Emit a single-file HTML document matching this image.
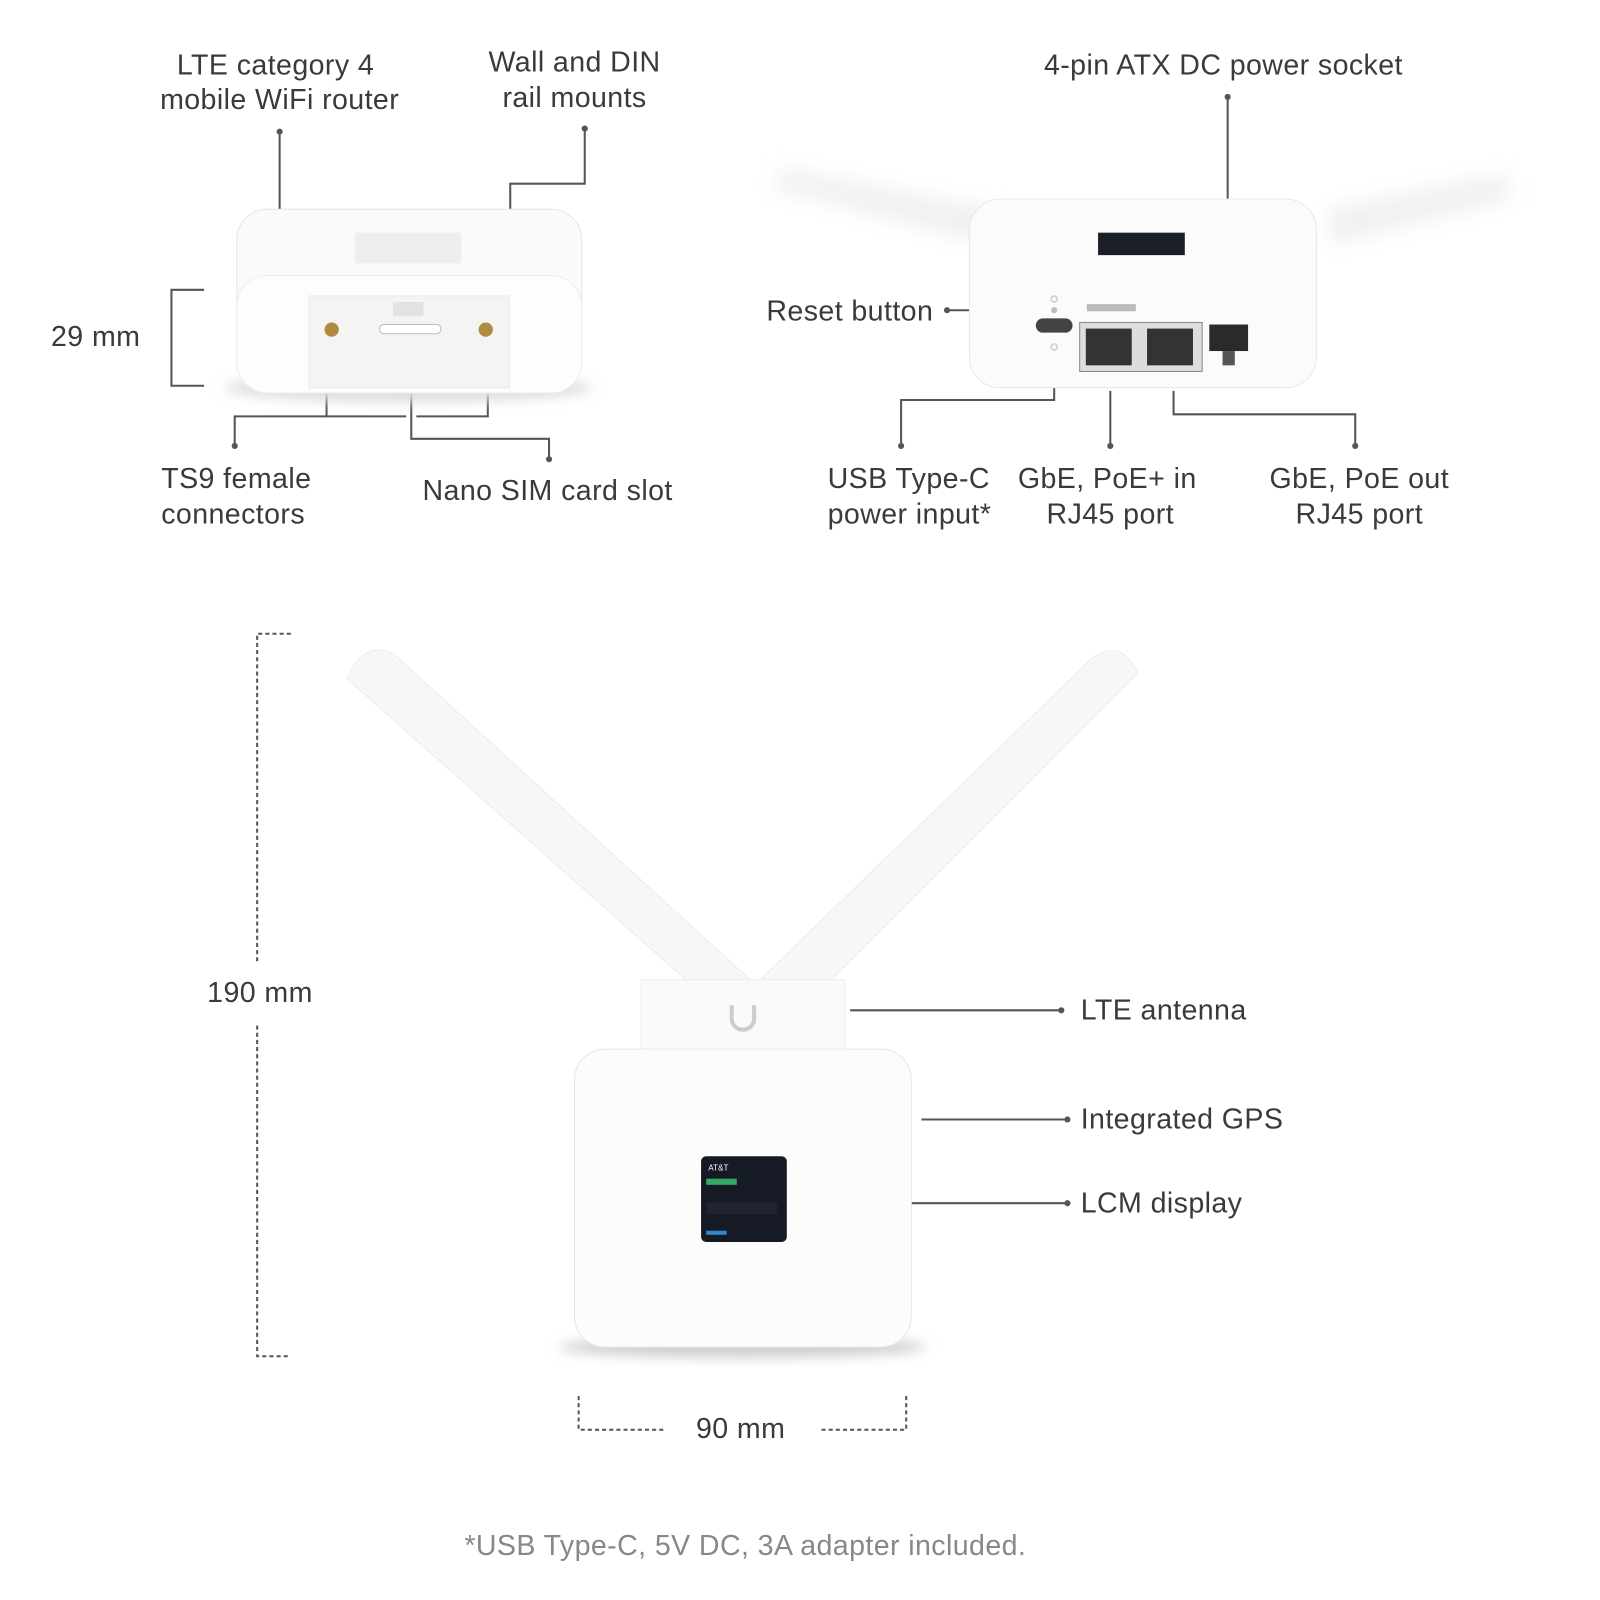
<!DOCTYPE html>
<html><head><style>
html,body{margin:0;padding:0;background:#fff;}
svg{display:block;}
text{font-family:"Liberation Sans",sans-serif;font-size:28px;letter-spacing:0.4px;fill:#3a3a3a;}
</style></head><body>
<svg width="1600" height="1600" viewBox="0 0 1600 1600">
<defs>
<filter id="b" x="-20%" y="-50%" width="140%" height="200%"><feGaussianBlur stdDeviation="6"/></filter>
<filter id="s" x="-20%" y="-50%" width="140%" height="200%"><feGaussianBlur stdDeviation="10"/></filter>
</defs>
<g transform="scale(1.0205)">
<g stroke="#555" stroke-width="2" fill="none">
<path d="M274 130 V205"/><path d="M573 126 V180 H500 V225"/>
<path d="M230 437 V408 H320 V360"/><path d="M320 408 H398"/><path d="M408 408 H478 V360"/>
<path d="M403 355 V430 H538 V450"/>
<path d="M200 284 H168 V378 H200"/>
<path d="M1203 95 V318"/><path d="M928 304 H1022"/>
<path d="M1033 348 V392 H883 V437"/><path d="M1088 383 V437"/>
<path d="M1150 383 V406 H1328 V437"/>
<path d="M833 990 H1040"/><path d="M903 1097 H1046"/><path d="M776 1179 H1046"/>
<path d="M285 621 H252 V945 M252 1005 V1329 H285" stroke-dasharray="4 3"/>
<path d="M567 1368 V1401 H652 M805 1401 H888 V1368" stroke-dasharray="4 3"/>
</g>
<g fill="#555">
<circle cx="274" cy="129" r="3"/><circle cx="573" cy="126" r="3"/><circle cx="230" cy="437" r="3"/><circle cx="538" cy="450" r="3"/>
<circle cx="1203" cy="95" r="3"/><circle cx="928" cy="304" r="3"/><circle cx="883" cy="437" r="3"/><circle cx="1088" cy="437" r="3"/><circle cx="1328" cy="437" r="3"/>
<circle cx="1040" cy="990" r="3"/><circle cx="1046" cy="1097" r="3"/><circle cx="1046" cy="1179" r="3"/>
</g>
<ellipse cx="400" cy="380" rx="180" ry="14" fill="#ddd" filter="url(#b)"/>
<rect x="232" y="205" width="338" height="180" rx="30" fill="#fafafa" stroke="#e6e6e6"/>
<rect x="232" y="270" width="338" height="115" rx="30" fill="#fdfdfd" stroke="#eee"/>
<rect x="348" y="228" width="104" height="30" fill="#eee"/>
<rect x="303" y="290" width="196" height="90" fill="#f4f4f4" stroke="#e8e8e8"/>
<circle cx="325" cy="323" r="7" fill="#b08a40"/><circle cx="476" cy="323" r="7" fill="#b08a40"/>
<rect x="372" y="318" width="60" height="9" rx="4" fill="#fff" stroke="#bbb"/>
<rect x="385" y="296" width="30" height="14" fill="#e2e2e2"/>
<g fill="#f0f0f0" filter="url(#s)">
<path d="M765 165 L975 205 L970 240 L760 185Z"/><path d="M1300 205 L1475 170 L1480 195 L1305 240Z"/>
</g>
<rect x="950" y="195" width="340" height="185" rx="30" fill="#fbfbfb" stroke="#e8e8e8"/>
<rect x="1076" y="228" width="85" height="22" fill="#1a1f2a"/>
<rect x="1015" y="312" width="36" height="14" rx="7" fill="#444"/>
<circle cx="1033" cy="293" r="3" fill="none" stroke="#bbb"/><circle cx="1033" cy="304" r="3" fill="#bbb"/><circle cx="1033" cy="340" r="3" fill="none" stroke="#bbb"/>
<rect x="1058" y="316" width="120" height="48" fill="#ddd" stroke="#888"/>
<rect x="1064" y="322" width="45" height="36" fill="#333"/><rect x="1124" y="322" width="45" height="36" fill="#333"/>
<rect x="1185" y="318" width="38" height="26" fill="#2a2a2a"/><rect x="1198" y="344" width="12" height="14" fill="#555"/>
<rect x="1065" y="298" width="48" height="7" fill="#bbb"/>
<g fill="#f7f7f7" stroke="#ececec">
<path d="M340 665 Q355 628 385 640 L735 960 L700 985Z"/>
<path d="M1115 660 Q1100 625 1070 645 L745 960 L790 985Z"/>
</g>
<rect x="628" y="960" width="200" height="70" fill="#fafafa" stroke="#eee"/>
<path d="M717 985 V998 A11 11 0 0 0 739 998 V985" fill="none" stroke="#ccc" stroke-width="4"/>
<ellipse cx="728" cy="1320" rx="180" ry="10" fill="#ccc" filter="url(#b)"/>
<rect x="563" y="1028" width="330" height="292" rx="30" fill="#fcfcfc" stroke="#e6e6e6"/>
<rect x="687" y="1133" width="84" height="84" rx="5" fill="#151a24"/>
<text x="694" y="1147" style="font-size:8px;fill:#fff;letter-spacing:0">AT&amp;T</text>
<rect x="692" y="1155" width="30" height="6" fill="#3a6"/>
<rect x="692" y="1178" width="70" height="12" fill="#223"/>
<rect x="692" y="1206" width="20" height="4" fill="#38c"/>
<text x="270" y="73" text-anchor="middle">LTE category 4</text>
<text x="274" y="107" text-anchor="middle">mobile WiFi router</text>
<text x="563" y="70" text-anchor="middle">Wall and DIN</text>
<text x="563" y="105" text-anchor="middle">rail mounts</text>
<text x="50" y="339">29 mm</text>
<text x="158" y="478">TS9 female</text>
<text x="158" y="513">connectors</text>
<text x="414" y="490">Nano SIM card slot</text>
<text x="1023" y="73">4-pin ATX DC power socket</text>
<text x="751" y="314">Reset button</text>
<text x="811" y="478">USB Type-C</text>
<text x="811" y="513">power input*</text>
<text x="1085" y="478" text-anchor="middle">GbE, PoE+ in</text>
<text x="1088" y="513" text-anchor="middle">RJ45 port</text>
<text x="1332" y="478" text-anchor="middle">GbE, PoE out</text>
<text x="1332" y="513" text-anchor="middle">RJ45 port</text>
<text x="203" y="982">190 mm</text>
<text x="1059" y="999">LTE antenna</text>
<text x="1059" y="1106">Integrated GPS</text>
<text x="1059" y="1188">LCM display</text>
<text x="682" y="1409">90 mm</text>
<text x="455" y="1524" style="fill:#888">*USB Type-C, 5V DC, 3A adapter included.</text>
</g>
</svg>
</body></html>
